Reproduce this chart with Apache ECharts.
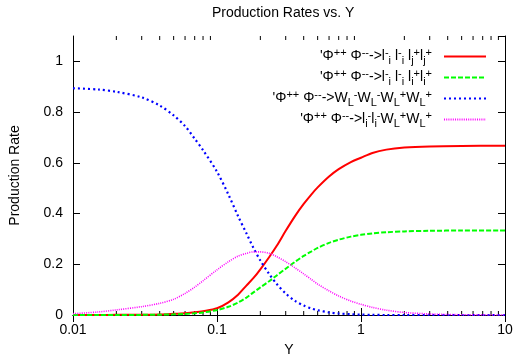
<!DOCTYPE html>
<html>
<head>
<meta charset="utf-8">
<script src="https://cdn.jsdelivr.net/npm/echarts@6/dist/echarts.min.js"></script>
<style>
  html, body { margin: 0; padding: 0; background: #fff; }
  #chart { width: 516px; height: 362px; }
</style>
</head>
<body>
<div id="chart"></div>
<script>
// values (x is log scaled)
const xs = [0.01, 0.015, 0.02, 0.03, 0.04, 0.05, 0.06, 0.07, 0.08, 0.1, 0.12, 0.14, 0.16, 0.18, 0.2, 0.23, 0.26, 0.3, 0.35, 0.4, 0.45, 0.5, 0.6, 0.7, 0.85, 1, 1.2, 1.5, 2, 3, 5, 10];
const llJJ = [0, 0, 0.0005, 0.001, 0.002, 0.0047, 0.0073, 0.0106, 0.015, 0.0266, 0.05, 0.08, 0.116, 0.147, 0.18, 0.2275, 0.2727, 0.332, 0.392, 0.438, 0.474, 0.503, 0.546, 0.575, 0.603, 0.62, 0.639, 0.652, 0.66, 0.6645, 0.6665, 0.667];
const llII = [0, 0, 0, 0.0005, 0.0012, 0.0025, 0.0043, 0.0068, 0.0102, 0.0195, 0.0323, 0.049, 0.0687, 0.09, 0.109, 0.133, 0.156, 0.1826, 0.2107, 0.233, 0.25, 0.2645, 0.2843, 0.297, 0.309, 0.316, 0.3217, 0.3263, 0.3296, 0.332, 0.333, 0.333];
const wwww = [0.894, 0.889, 0.88, 0.858, 0.826, 0.787, 0.745, 0.695, 0.65, 0.565, 0.475, 0.39, 0.322, 0.262, 0.215, 0.162, 0.122, 0.085, 0.055, 0.037, 0.026, 0.019, 0.01, 0.006, 0.003, 0.0015, 0.0005, 0, 0, 0, 0, 0];
const llww = [0.005, 0.012, 0.02, 0.033, 0.046, 0.062, 0.085, 0.11, 0.135, 0.178, 0.21, 0.232, 0.243, 0.249, 0.249, 0.243, 0.23, 0.21, 0.185, 0.162, 0.141, 0.122, 0.095, 0.075, 0.055, 0.042, 0.03, 0.019, 0.01, 0.004, 0.001, 0];
const minorTicks = [0.02, 0.03, 0.04, 0.05, 0.06, 0.07, 0.08, 0.09, 0.2, 0.3, 0.4, 0.5, 0.6, 0.7, 0.8, 0.9, 2, 3, 4, 5, 6, 7, 8, 9];
const yTicks = [0, 0.2, 0.4, 0.6, 0.8, 1];

const names = ['s1', 's2', 's3', 's4'];
const labels = {
  s1: "'\u03a6{sup|++} \u03a6{sup|--}->l{sup|-}{sub|i} l{sup|-}{sub|i} l{sub|j}{sup|+}l{sub|j}{sup|+}{gap|}",
  s2: "'\u03a6{sup|++} \u03a6{sup|--}->l{sup|-}{sub|i} l{sup|-}{sub|i} l{sub|i}{sup|+}l{sub|i}{sup|+}{gap|}",
  s3: "'\u03a6{sup|++} \u03a6{sup|--}->W{sub|L}{sup|-}W{sub|L}{sup|-}W{sub|L}{sup|+}W{sub|L}{sup|+}{gap|}",
  s4: "'\u03a6{sup|++} \u03a6{sup|--}->l{sub|i}{sup|-}l{sub|i}{sup|-}W{sub|L}{sup|+}W{sub|L}{sup|+}{gap|}",
};

const font = '"Liberation Sans", Arial, sans-serif';
const pair = (ys) => xs.map((x, i) => [x, ys[i]]);

const chart = echarts.init(document.getElementById('chart'), null, { renderer: 'canvas' });

const lineSeries = (name, data, color, type, width) => ({
  name,
  type: 'line',
  data: pair(data),
  smooth: 0.3,
  symbol: 'none',
  xAxisIndex: 0,
  yAxisIndex: 0,
  lineStyle: { color, width, type },
  itemStyle: { color },
  z: 3,
});

chart.setOption({
  animation: false,
  backgroundColor: '#fff',
  textStyle: { fontFamily: font, color: '#000' },
  title: {
    text: 'Production Rates vs. Y',
    left: 212,
    top: 6,
    padding: 0,
    textStyle: { fontFamily: font, fontSize: 14, fontWeight: 'normal', color: '#000' },
  },
  grid: { left: 73, right: 11, top: 36, bottom: 42, containLabel: false },
  legend: {
    data: names,
    orient: 'vertical',
    align: 'right',
    right: 29,
    top: 47,
    padding: 0,
    itemGap: 2,
    itemWidth: 42,
    itemHeight: 10,
    itemStyle: { opacity: 0 },
    formatter: (n) => labels[n],
    textStyle: {
      fontFamily: font,
      fontSize: 14,
      color: '#000',
      lineHeight: 19,
      rich: {
        sup: { fontFamily: font, fontSize: 11, verticalAlign: 'top', lineHeight: 11 },
        sub: { fontFamily: font, fontSize: 11, verticalAlign: 'bottom', lineHeight: 11 },
        gap: { width: 7 },
      },
    },
  },
  xAxis: [
    {
      type: 'log',
      logBase: 10,
      min: 0.01,
      max: 10,
      name: 'Y',
      nameLocation: 'middle',
      nameGap: 28,
      nameTextStyle: { fontFamily: font, fontSize: 14, color: '#000' },
      axisLine: { lineStyle: { color: '#000', width: 1 } },
      axisTick: { inside: true, length: 7, lineStyle: { color: '#000' } },
      axisLabel: {
        margin: 8,
        fontFamily: font,
        fontSize: 14,
        color: '#000',
        formatter: (v) => String(Number(v.toPrecision(3))),
      },
      splitLine: { show: false },
    },
    {
      type: 'log',
      logBase: 10,
      min: 0.01,
      max: 10,
      position: 'top',
      axisLine: { lineStyle: { color: '#000', width: 1 } },
      axisTick: { inside: true, length: 7, lineStyle: { color: '#000' } },
      axisLabel: { show: false },
      splitLine: { show: false },
    },
  ],
  yAxis: [
    {
      type: 'value',
      min: 0,
      max: 1.1,
      interval: 0.2,
      name: 'Production Rate',
      nameLocation: 'middle',
      nameGap: 51,
      nameRotate: 90,
      nameTextStyle: { fontFamily: font, fontSize: 14, color: '#000' },
      axisLine: { show: true, lineStyle: { color: '#000', width: 1 } },
      axisTick: { show: true, inside: true, length: 7, lineStyle: { color: '#000' } },
      axisLabel: {
        margin: 10,
        fontFamily: font,
        fontSize: 14,
        color: '#000',
        showMaxLabel: false,
        formatter: (v) => (yTicks.some((t) => Math.abs(t - v) < 1e-9) ? String(Number(v.toFixed(1))) : ''),
      },
      splitLine: { show: false },
    },
    {
      type: 'value',
      min: 0,
      max: 1.1,
      interval: 0.2,
      position: 'right',
      axisLine: { show: true, lineStyle: { color: '#000', width: 1 } },
      axisTick: { show: true, inside: true, length: 7, lineStyle: { color: '#000' } },
      axisLabel: { show: false },
      splitLine: { show: false },
    },
  ],
  series: [
    lineSeries('s1', llJJ, '#ff0000', 'solid', 2),
    lineSeries('s2', llII, '#00ff00', [5, 2], 2),
    lineSeries('s3', wwww, '#0000ff', [2, 3], 2.2),
    lineSeries('s4', llww, '#ff00ff', [1, 1.2], 1.6),
    {
      // minor ticks of the log axis, bottom and top
      type: 'custom',
      silent: true,
      clip: false,
      xAxisIndex: 0,
      yAxisIndex: 0,
      data: minorTicks.map((v) => [v, 0]),
      encode: { x: 0, y: 1 },
      renderItem: (params, api) => {
        const b = api.coord([api.value(0), 0]);
        const t = api.coord([api.value(0), 1.1]);
        const st = { stroke: '#000', lineWidth: 1 };
        return {
          type: 'group',
          children: [
            { type: 'line', shape: { x1: b[0], y1: b[1], x2: b[0], y2: b[1] - 4 }, style: st },
            { type: 'line', shape: { x1: t[0], y1: t[1], x2: t[0], y2: t[1] + 4 }, style: st },
          ],
        };
      },
      z: 1,
    },
  ],
});
</script>
</body>
</html>
